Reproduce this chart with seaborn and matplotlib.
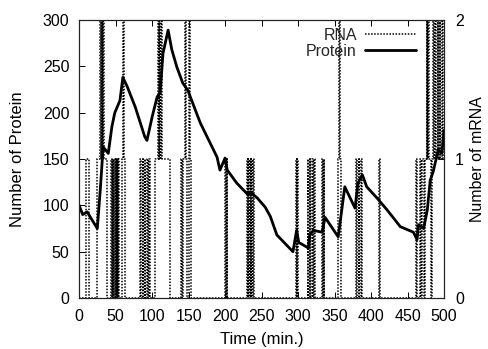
import numpy as np
import pandas as pd
import matplotlib
matplotlib.use("Agg")
import matplotlib.pyplot as plt
import seaborn as sns

# ── Data ──────────────────────────────────────────────────────
protein_time = [0, 5, 11, 18, 25, 29, 33, 40, 45, 49, 56, 60, 66, 77, 90, 93,
                100, 107, 111, 115, 122, 127, 134, 142, 149, 166, 189, 193,
                200, 203, 216, 232, 235, 244, 255, 262, 271, 293, 298, 301,
                314, 316, 321, 333, 337, 355, 364, 378, 382, 388, 394, 408,
                422, 440, 458, 463, 465, 472, 477, 481, 485, 492, 497, 500]
protein_count = [100, 90, 93, 84, 75, 116, 163, 156, 185, 200, 213, 238, 228,
                 206, 174, 170, 195, 217, 221, 264, 289, 268, 249, 232, 224,
                 189, 152, 138, 151, 138, 124, 111, 114, 108, 98, 88, 68, 50,
                 73, 60, 54, 68, 73, 71, 87, 66, 120, 97, 124, 133, 120, 108,
                 95, 77, 71, 63, 79, 75, 95, 127, 136, 160, 156, 181]

rna_time = [0, 10, 13, 24, 29, 30, 31, 32, 33, 34, 38,
            44, 45, 46, 47, 48, 49, 50, 51, 52, 53, 54, 55,
            59, 60, 61, 63,
            84, 85, 87, 88, 90, 91, 93, 94, 96, 97,
            104, 108, 109, 110, 111, 112, 113, 125,
            140, 141, 143, 145, 146, 148, 150, 151, 152, 153,
            200, 201, 202, 203,
            230, 231, 232, 233, 234, 235, 236, 237, 238, 239,
            297, 298, 299, 300,
            313, 314, 316, 317, 319, 320, 322, 323,
            333, 334, 335, 336,
            355, 356, 357, 359,
            380, 381, 383, 384, 386, 388,
            411, 412, 462, 463,
            467, 469, 470, 472, 474, 476, 477, 478, 479, 482,
            483, 485, 486, 488, 489, 491, 492, 494, 495, 497, 499, 500]
rna_count = [0, 1, 0, 1, 2, 1, 2, 1, 2, 1, 0,
             1, 0, 1, 0, 1, 0, 1, 0, 1, 0, 1, 0,
             1, 2, 1, 0,
             1, 0, 1, 0, 1, 0, 1, 0, 1, 0,
             1, 2, 1, 2, 1, 2, 1, 0,
             1, 0, 1, 2, 1, 0, 1, 2, 1, 0,
             1, 0, 1, 0,
             1, 0, 1, 0, 1, 0, 1, 0, 1, 0,
             1, 0, 1, 0,
             1, 0, 1, 0, 1, 0, 1, 0,
             1, 0, 1, 0,
             1, 2, 1, 0,
             1, 0, 1, 0, 1, 0,
             1, 0, 1, 0,
             1, 0, 1, 0, 1, 2, 1, 2, 1, 0,
             1, 2, 1, 2, 1, 2, 1, 2, 1, 2, 1, 1]

x_ticks = [0, 50, 100, 150, 200, 250, 300, 350, 400, 450, 500]
protein_ticks = [0, 50, 100, 150, 200, 250, 300]
rna_ticks = [0, 1, 2]

# ── Style ─────────────────────────────────────────────────────
sns.set_theme(style="ticks")
plt.rcParams["font.family"] = ["Liberation Sans", "DejaVu Sans"]
plt.rcParams["xtick.direction"] = "in"
plt.rcParams["ytick.direction"] = "in"

prot_df = pd.DataFrame({"time": protein_time, "count": protein_count})
rna_df = pd.DataFrame({"time": rna_time, "count": rna_count})

fig = plt.figure(figsize=(4.88, 3.49), dpi=100)
ax = fig.add_axes([0.162, 0.146, 0.748, 0.797])
ax2 = ax.twinx()

sns.lineplot(data=rna_df, x="time", y="count", ax=ax2, color="black",
             linestyle=(0, (1, 1)), linewidth=1.1, drawstyle="steps-post",
             sort=False, label="RNA", legend=False)
sns.lineplot(data=prot_df, x="time", y="count", ax=ax, color="black",
             linewidth=2.0, sort=False, label="Protein", legend=False)

ax.set_xlim(0, 500)
ax.set_ylim(0, 300)
ax2.set_ylim(0, 2)
ax.set_xticks(x_ticks)
ax.set_yticks(protein_ticks)
ax2.set_yticks(rna_ticks)

for a in (ax, ax2):
    for s in a.spines.values():
        s.set_visible(True)
        s.set_linewidth(0.8)
        s.set_color("#222222")
    a.tick_params(labelsize=11.5, colors="black", length=4, width=0.7)
ax.tick_params(axis="x", top=True, pad=8)
ax.tick_params(axis="y", right=False, pad=7)
ax2.tick_params(axis="y", pad=8)

ax.set_xlabel("Time (min.)", fontsize=12, color="black", labelpad=6)
ax.set_ylabel("Number of Protein", fontsize=12, color="black", labelpad=13)
ax2.set_ylabel("Number of mRNA", fontsize=11.5, color="black", labelpad=4)

h1 = ax2.get_lines()[0]
h2 = ax.get_lines()[0]
ax2.legend([h1, h2], ["RNA", "Protein"], loc="upper right",
           bbox_to_anchor=(0.945, 1.0), frameon=False, markerfirst=False,
           fontsize=11.5, handlelength=3.2, handletextpad=0.5,
           labelspacing=0.05, borderaxespad=0.1)

fig.savefig("out.png", dpi=100)
